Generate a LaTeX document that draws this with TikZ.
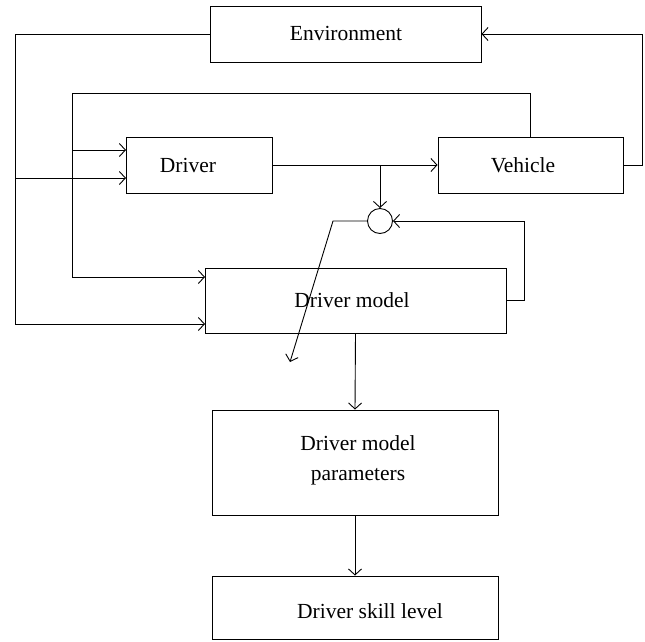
\documentclass[tikz,border=0pt]{standalone}
\usepackage{fontspec}
\setmainfont{Liberation Serif}
\usetikzlibrary{arrows.meta}
\tikzset{
  box/.style={draw, rectangle, inner sep=0pt},
  lbl/.style={inner sep=0pt, font=\fontsize{21.5}{30}\selectfont, align=center},
  flow/.style={->},
}
\begin{document}
\begin{tikzpicture}[x=1pt, y=-1pt, line width=0.9pt,
  >={Straight Barb[length=6pt,width=13pt]}]
\useasboundingbox (0,0) rectangle (645,641);

% blocks
\node[box, minimum width=271pt, minimum height=56pt] (env) at (345.5,34) {};
\node[box, minimum width=146pt, minimum height=56pt] (drv) at (199,165) {};
\node[box, minimum width=185pt, minimum height=56pt] (veh) at (530.5,165) {};
\node[box, minimum width=301pt, minimum height=65pt] (dm)  at (355.5,300.5) {};
\node[box, minimum width=286pt, minimum height=105pt] (par) at (355,462.5) {};
\node[box, minimum width=286pt, minimum height=63pt] (skl) at (355,607.5) {};
\node[draw, circle, minimum size=25pt, inner sep=0pt] (sum) at (380,221) {};

% block texts
\node[lbl] (envt) at (346,33) {Environment};
\node[lbl] (drvt) at (188,165) {Driver};
\node[lbl] (veht) at (523,165) {Vehicle};
\node[lbl] (dmt)  at (352,300) {Driver model};
\node[lbl] (part) at (358,460) {Driver model\\parameters};
\node[lbl] (sklt) at (370,611) {Driver skill level};

% routing points
\coordinate (oCorner) at (15,324);
\coordinate (oBranch) at (15,178);
\coordinate (iCorner) at (72,93);
\coordinate (iBranch) at (72,150);
\coordinate (drvIn1) at (126,150);
\coordinate (drvIn2) at (126,178);
\coordinate (dmIn1) at (205,277);
\coordinate (dmIn2) at (205,324);
\coordinate (vR) at (642,165);
\coordinate (jn) at (380,165);
\coordinate (fbR) at (524,300.5);
\coordinate (dKnee) at (333,221);
\coordinate (dOut) at (290,362);

% environment feedback to driver and driver model
\draw[flow] (env.west) -| (oCorner) -- (dmIn2);
\draw[flow] (oBranch) -- (drvIn2);

% vehicle state to driver and driver model
\draw[flow] (veh.north) |- (iCorner) |- (dmIn1);
\draw[flow] (iBranch) -- (drvIn1);

% main loop
\draw[flow] (drv.east) -- (veh.west);
\draw[flow] (veh.east) -- (vR) |- (env.east);

% comparison of driver and model outputs
\draw[flow] (jn) -- (sum.north);
\draw[flow] (dm.east) -- (fbR) |- (sum.east);
\draw[flow] (sum.west) -- (dKnee) -- (dOut);

% identification chain
\draw[flow] (dm.south) -- (par.north);
\draw[flow] (par.south) -- (skl.north);
\end{tikzpicture}
\end{document}
